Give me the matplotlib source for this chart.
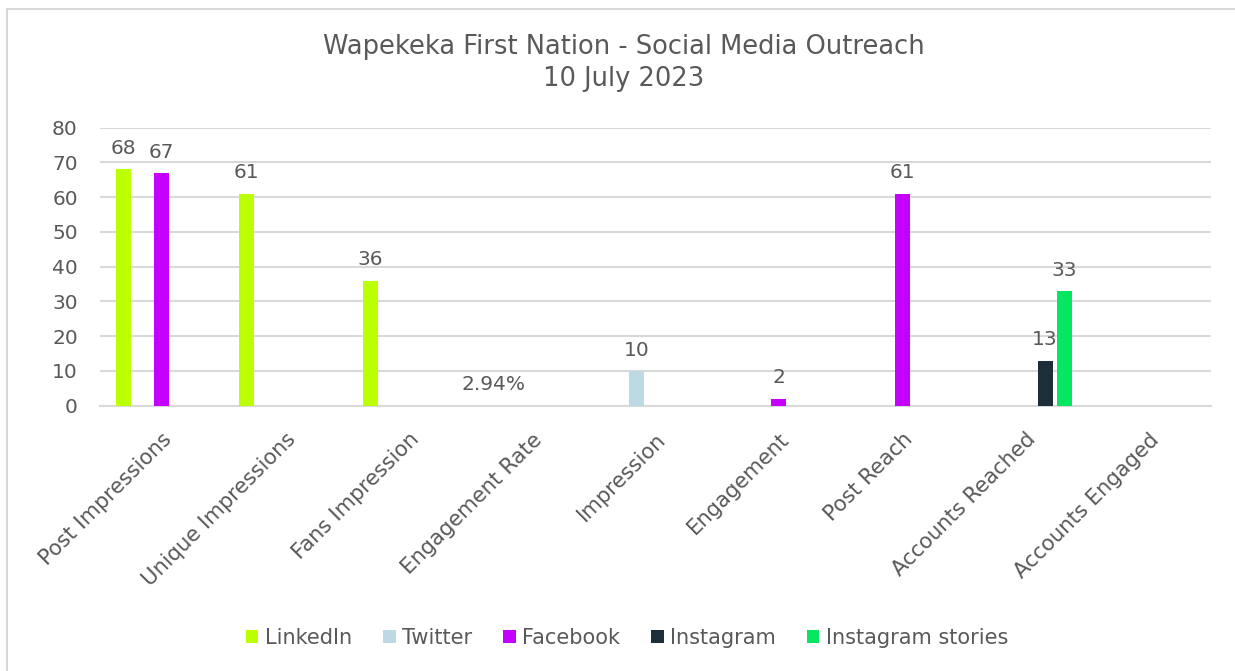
import matplotlib
matplotlib.use("Agg")
import matplotlib.pyplot as plt
from matplotlib.patches import Rectangle
import numpy as np

categories = ["Post Impressions", "Unique Impressions", "Fans Impression", "Engagement Rate",
              "Impression", "Engagement", "Post Reach", "Accounts Reached", "Accounts Engaged"]
series_names = ["LinkedIn", "Twitter", "Facebook", "Instagram", "Instagram stories"]
nan = np.nan
linkedin = [68, 61, 36, 0.0294, nan, nan, nan, nan, nan]
twitter = [nan, nan, nan, nan, 10, nan, nan, nan, nan]
facebook = [67, nan, nan, nan, nan, 2, 61, nan, nan]
instagram = [nan, nan, nan, nan, nan, nan, nan, 13, nan]
instagram_stories = [nan, nan, nan, nan, nan, nan, nan, 33, nan]
series_values = [linkedin, twitter, facebook, instagram, instagram_stories]
colors = ["#BBFF00", "#BDD9E4", "#C400FF", "#1C2E3A", "#06E660"]
y_ticks = [0, 10, 20, 30, 40, 50, 60, 70, 80]

plt.rcParams['font.family'] = ['DejaVu Sans']
TXT = "#595959"
GRID = "#D9D9D9"
FS = 14.5

W, H = 1235, 671
fig = plt.figure(figsize=(W / 100, H / 100), dpi=100)
ax = fig.add_axes([100 / W, (H - 405.7) / H, 1111 / W, (405.7 - 127.7) / H])

slot = 0.156
bw = 0.122
x = np.arange(len(categories))
for j, (name, vals, c) in enumerate(zip(series_names, series_values, colors)):
    xs = x + (j - 2) * slot
    v = np.array(vals, dtype=float)
    ax.bar(xs, np.nan_to_num(v), width=bw, color=c, label=name, zorder=3)
    for xi, vi in zip(xs, v):
        if np.isnan(vi):
            continue
        lab = f"{vi * 100:.2f}%" if vi < 1 else f"{vi:g}"
        ax.annotate(lab, (xi, vi), xytext=(0, 11), textcoords="offset points",
                    ha="center", va="baseline", fontsize=FS, color=TXT, zorder=4)

ax.set_xlim(-0.5, len(categories) - 0.5)
ax.set_ylim(0, 80)
ax.set_yticks(y_ticks)
ax.yaxis.grid(True, color=GRID, linewidth=1.5, zorder=0)
ax.set_axisbelow(True)
for s in ["top", "right", "left"]:
    ax.spines[s].set_visible(False)
ax.spines["bottom"].set_color(GRID)
ax.spines["bottom"].set_linewidth(1.5)
ax.tick_params(axis="both", length=0, labelsize=FS, colors=TXT)
ax.tick_params(axis="y", pad=16)
ax.set_xticks(x)
ax.set_xticklabels(categories, rotation=45, ha="right", va="top", rotation_mode="anchor")
ax.tick_params(axis="x", pad=17, labelsize=15.2)

fig.text(624 / W, 1 - 47 / H, "Wapekeka First Nation - Social Media Outreach",
         ha="center", va="center", fontsize=18.5, color=TXT)
fig.text(624 / W, 1 - 79 / H, "10 July 2023", ha="center", va="center", fontsize=18.5, color=TXT)

leg = fig.legend(loc="center", bbox_to_anchor=(627 / W, 1 - 638 / H), ncol=5, frameon=False,
                 fontsize=15, handlelength=0.6, handleheight=0.6, handletextpad=0.3,
                 columnspacing=1.5, labelcolor=TXT)

fig.add_artist(Rectangle((7 / W, -0.05), 1.1, 1 - 9 / H + 0.05, transform=fig.transFigure,
                         fill=False, edgecolor=GRID, linewidth=1.5))

fig.savefig("out.png", dpi=100)
